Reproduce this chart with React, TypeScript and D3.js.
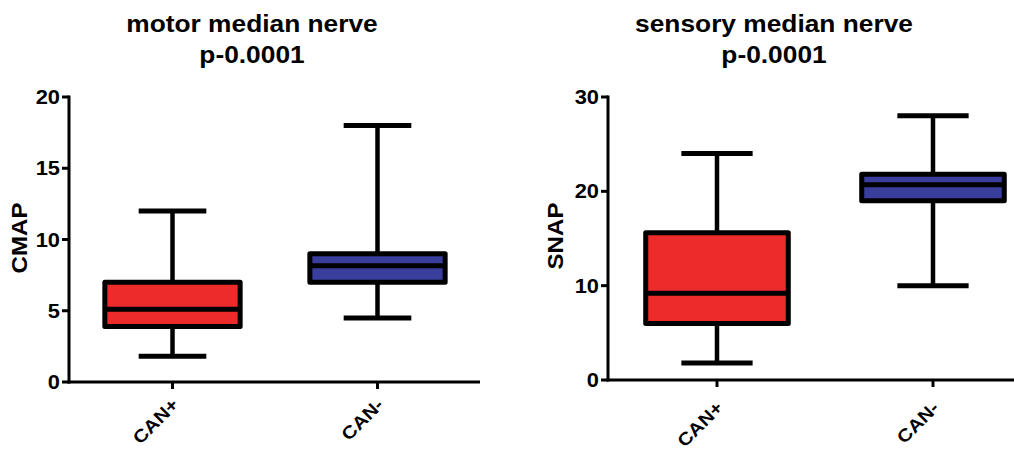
import React from "react";
import * as d3 from "d3";

const groups = ["CAN+", "CAN-"];
const boxColors = ["#ee2b2b", "#393d9c"];

// motor median nerve (CMAP)
const motorMin = [1.8, 4.5];
const motorQ1 = [3.9, 7.0];
const motorMedian = [5.1, 8.15];
const motorQ3 = [7.0, 9.0];
const motorMax = [12, 18];
const motorTicks = [0, 5, 10, 15, 20];

// sensory median nerve (SNAP)
const sensoryMin = [1.8, 10];
const sensoryQ1 = [6.0, 19.0];
const sensoryMedian = [9.2, 20.7];
const sensoryQ3 = [15.6, 21.8];
const sensoryMax = [24, 28];
const sensoryTicks = [0, 10, 20, 30];

const font = "Arial, 'Liberation Sans', sans-serif";
// the original text is a little wider than Arial
const stretch = "scale(1.12,1)";

interface PanelProps {
  title: string;
  pValue: string;
  yLabel: string;
  mins: number[];
  q1s: number[];
  medians: number[];
  q3s: number[];
  maxs: number[];
  ticks: number[];
  xRange: [number, number];
  yRange: [number, number];
  titleX: number;
  yLabelX: number;
  yLabelY: number;
  labelDy: number;
}

const Panel: React.FC<PanelProps> = (p) => {
  const x = d3.scalePoint<string>().domain(groups).range(p.xRange).padding(0.5);
  const y = d3
    .scaleLinear()
    .domain([0, d3.max(p.ticks) as number])
    .range(p.yRange);
  const step = x.step();
  const boxW = step * 0.66;
  const capW = step * 0.33;
  const axisX = p.xRange[0] - 1;
  const y0 = y(0);

  return (
    <g>
      {/* title */}
      <text transform={`translate(${p.titleX},32) ${stretch}`} textAnchor="middle" fontFamily={font} fontWeight="bold" fontSize={23.5}>
        {p.title}
      </text>
      <text transform={`translate(${p.titleX},63) ${stretch}`} textAnchor="middle" fontFamily={font} fontWeight="bold" fontSize={23.5}>
        {p.pValue}
      </text>

      {/* boxes */}
      {groups.map((g, i) => {
        const cx = x(g) as number;
        return (
          <g key={g}>
            <line x1={cx} x2={cx} y1={y(p.maxs[i])} y2={y(p.q3s[i])} stroke="#000" strokeWidth={4.5} />
            <line x1={cx} x2={cx} y1={y(p.q1s[i])} y2={y(p.mins[i])} stroke="#000" strokeWidth={4.5} />
            <line x1={cx - capW / 2} x2={cx + capW / 2} y1={y(p.maxs[i])} y2={y(p.maxs[i])} stroke="#000" strokeWidth={5} />
            <line x1={cx - capW / 2} x2={cx + capW / 2} y1={y(p.mins[i])} y2={y(p.mins[i])} stroke="#000" strokeWidth={5} />
            <rect
              x={cx - boxW / 2}
              y={y(p.q3s[i])}
              width={boxW}
              height={y(p.q1s[i]) - y(p.q3s[i])}
              fill={boxColors[i]}
              stroke="#000"
              strokeWidth={5}
              strokeLinejoin="round"
            />
            <line
              x1={cx - boxW / 2}
              x2={cx + boxW / 2}
              y1={y(p.medians[i])}
              y2={y(p.medians[i])}
              stroke="#000"
              strokeWidth={5}
            />
          </g>
        );
      })}

      {/* y axis */}
      <line x1={axisX} x2={axisX} y1={y0 + 1.5} y2={y(d3.max(p.ticks) as number) - 1.5} stroke="#000" strokeWidth={3} />
      {p.ticks.map((t) => (
        <g key={t}>
          <line x1={axisX - 7} x2={axisX} y1={y(t)} y2={y(t)} stroke="#000" strokeWidth={3} />
          <text
            transform={`translate(${axisX - 9},${y(t)}) ${stretch}`}
            dy="0.36em"
            textAnchor="end"
            fontFamily={font}
            fontWeight="bold"
            fontSize={19.5}
          >
            {t}
          </text>
        </g>
      ))}
      <text
        transform={`translate(${p.yLabelX},${p.yLabelY}) rotate(-90) ${stretch}`}
        textAnchor="middle"
        fontFamily={font}
        fontWeight="bold"
        fontSize={21.5}
      >
        {p.yLabel}
      </text>

      {/* x axis */}
      <line x1={axisX - 1.5} x2={p.xRange[1]} y1={y0} y2={y0} stroke="#000" strokeWidth={3} />
      {groups.map((g) => {
        const cx = x(g) as number;
        return (
          <g key={g}>
            <line x1={cx} x2={cx} y1={y0} y2={y0 + 7} stroke="#000" strokeWidth={3} />
            <text
              transform={`translate(${cx + 7},${y0 + p.labelDy}) rotate(-45) ${stretch}`}
              textAnchor="end"
              fontFamily={font}
              fontWeight="bold"
              fontSize={18}
            >
              {g}
            </text>
          </g>
        );
      })}
    </g>
  );
};

export default function App() {
  return (
    <svg
      width={1014}
      height={450}
      style={{ position: "absolute", left: 0, top: 0, background: "#fff" }}
    >
      <Panel
        title="motor median nerve"
        pValue="p-0.0001"
        yLabel="CMAP"
        mins={motorMin}
        q1s={motorQ1}
        medians={motorMedian}
        q3s={motorQ3}
        maxs={motorMax}
        ticks={motorTicks}
        xRange={[70, 480]}
        yRange={[382, 97]}
        titleX={252}
        yLabelX={27}
        yLabelY={238}
        labelDy={24}
      />
      <Panel
        title="sensory median nerve"
        pValue="p-0.0001"
        yLabel="SNAP"
        mins={sensoryMin}
        q1s={sensoryQ1}
        medians={sensoryMedian}
        q3s={sensoryQ3}
        maxs={sensoryMax}
        ticks={sensoryTicks}
        xRange={[609, 1041]}
        yRange={[380, 97]}
        titleX={774}
        yLabelX={563}
        yLabelY={236}
        labelDy={29}
      />
    </svg>
  );
}
